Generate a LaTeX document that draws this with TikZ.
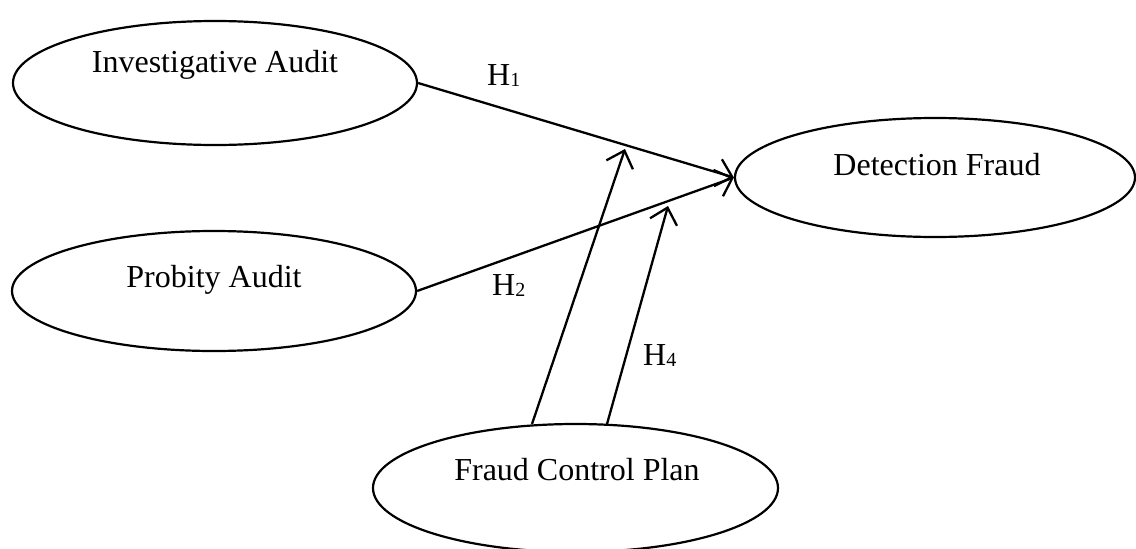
\documentclass[tikz,border=0pt]{standalone}
\usepackage{fontspec}
\setmainfont{Liberation Serif}
\usetikzlibrary{shapes.geometric,arrows.meta}
\newcommand{\hsub}[1]{H\raisebox{-1.5pt}{\fontsize{20}{20}\selectfont #1}}
\begin{document}
\begin{tikzpicture}[x=1pt,y=-1pt,
  ell/.style={draw,ellipse,line width=2.2pt,minimum width=404pt,minimum height=124pt,inner sep=0pt},
  txt/.style={anchor=base,inner sep=0pt,font=\fontsize{32}{36}\selectfont},
  hlab/.style={anchor=base west,inner sep=0pt,font=\fontsize{32}{36}\selectfont},
  arr/.style={line width=2.3pt,-{Straight Barb[length=15pt,width=28pt,line width=2.3pt]}}]
\useasboundingbox (0,0) rectangle (1136,549);
\node[ell] (ia) at (215,83) {};
\node[ell,minimum height=120pt] (pa) at (214,291) {};
\node[ell,minimum width=400pt,minimum height=119pt] (df) at (935,177.5) {};
\node[ell,minimum width=405pt,minimum height=128pt] (fcp) at (575.5,488) {};
\node[txt] (tia) at (215,72) {Investigative Audit};
\node[txt] (tpa) at (214,287) {Probity Audit};
\node[txt] (tdf) at (937,175) {Detection Fraud};
\node[txt] (tfcp) at (577,480) {Fraud Control Plan};
\node[hlab] (h1) at (487,85) {\hsub{1}};
\node[hlab] (h2) at (492,295) {\hsub{2}};
\node[hlab] (h4) at (643,365) {\hsub{4}};
\coordinate (t3) at (625,149);
\coordinate (t4) at (668,206);
\coordinate (s3) at (532,424);
\coordinate (s4) at (607,424);
\draw[arr] (ia.east) -- (df.west);
\draw[arr] (pa.east) -- (df.west);
\draw[arr] (s3) -- (t3);
\draw[arr] (s4) -- (t4);
\end{tikzpicture}
\end{document}
